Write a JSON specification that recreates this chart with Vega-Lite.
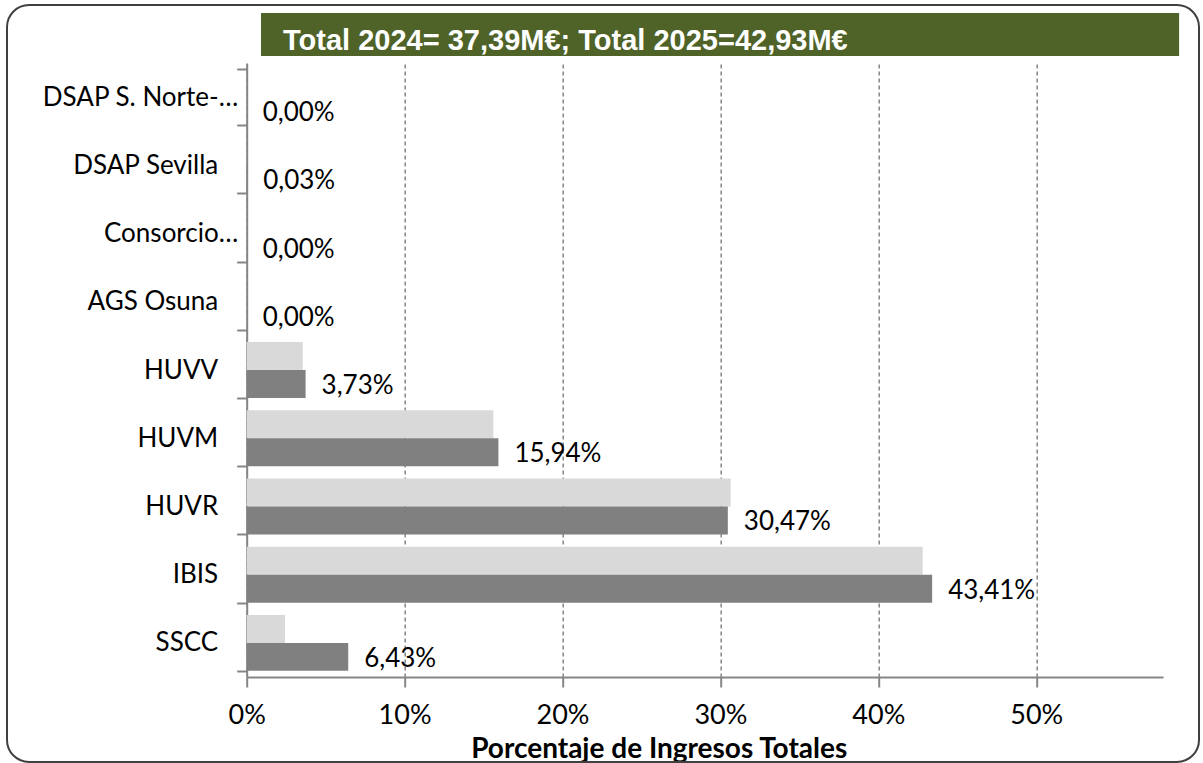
{
  "$schema": "https://vega.github.io/schema/vega-lite/v6.json",
  "width": 916.3,
  "height": 614,
  "autosize": {"type": "none"},
  "padding": {"left": 246.7, "top": 63, "right": 40, "bottom": 86},
  "background": "white",
  "config": {
    "view": {"stroke": null},
    "locale": {"number": {"decimal": ",", "thousands": ".", "grouping": [3], "currency": ["", " €"]}}
  },
  "layer": [
    {
      "data": {
        "values": [
          {"unidad": "DSAP S. Norte-…", "anio": "2024", "pct": 0},
          {"unidad": "DSAP S. Norte-…", "anio": "2025", "pct": 0},
          {"unidad": "DSAP Sevilla", "anio": "2024", "pct": 0},
          {"unidad": "DSAP Sevilla", "anio": "2025", "pct": 0.0003},
          {"unidad": "Consorcio…", "anio": "2024", "pct": 0},
          {"unidad": "Consorcio…", "anio": "2025", "pct": 0},
          {"unidad": "AGS Osuna", "anio": "2024", "pct": 0},
          {"unidad": "AGS Osuna", "anio": "2025", "pct": 0},
          {"unidad": "HUVV", "anio": "2024", "pct": 0.0355},
          {"unidad": "HUVV", "anio": "2025", "pct": 0.0373},
          {"unidad": "HUVM", "anio": "2024", "pct": 0.1562},
          {"unidad": "HUVM", "anio": "2025", "pct": 0.1594},
          {"unidad": "HUVR", "anio": "2024", "pct": 0.3065},
          {"unidad": "HUVR", "anio": "2025", "pct": 0.3047},
          {"unidad": "IBIS", "anio": "2024", "pct": 0.4281},
          {"unidad": "IBIS", "anio": "2025", "pct": 0.4341},
          {"unidad": "SSCC", "anio": "2024", "pct": 0.0243},
          {"unidad": "SSCC", "anio": "2025", "pct": 0.0643}
        ]
      },
      "encoding": {
        "y": {
          "field": "unidad",
          "type": "nominal",
          "sort": ["DSAP S. Norte-…", "DSAP Sevilla", "Consorcio…", "AGS Osuna", "HUVV", "HUVM", "HUVR", "IBIS", "SSCC"],
          "scale": {"paddingInner": 0.18, "paddingOuter": 0.09},
          "axis": {
            "title": null,
            "orient": "left",
            "tickBand": "extent",
            "tickSize": 10,
            "tickColor": "#868686",
            "tickWidth": 2,
            "domainColor": "#868686",
            "domainWidth": 2,
            "labelFont": "Lato",
            "labelFontSize": 26,
            "labelColor": "#000000",
            "labelPadding": 19,
            "labelLimit": 0,
            "grid": false,
            "encoding": {"labels": {"dx": {"condition": {"test": "indexof(datum.label, '…') >= 0", "value": 20}, "value": 0}}}
          }
        },
        "yOffset": {"field": "anio", "type": "nominal", "sort": ["2024", "2025"]},
        "x": {
          "field": "pct",
          "type": "quantitative",
          "scale": {"domain": [0, 0.5803], "nice": false, "zero": true},
          "axis": {
            "title": "Porcentaje de Ingresos Totales",
            "format": ".0%",
            "values": [0, 0.1, 0.2, 0.3, 0.4, 0.5],
            "grid": true,
            "gridDash": [4, 3],
            "gridColor": "#868686",
            "gridWidth": 1.5,
            "domainColor": "#868686",
            "domainWidth": 2,
            "tickColor": "#868686",
            "tickWidth": 2,
            "tickSize": 10,
            "labelFont": "Lato",
            "labelFontSize": 27,
            "labelColor": "#000000",
            "labelBaseline": "alphabetic",
            "labelPadding": 36,
            "labelFlush": false,
            "labelOverlap": false,
            "titleFont": "Lato",
            "titleFontSize": 28,
            "titleFontWeight": "bold",
            "titleColor": "#000000",
            "titleX": 412,
            "titleY": 80,
            "titleAlign": "center",
            "titleBaseline": "alphabetic"
          }
        }
      },
      "layer": [
        {
          "mark": {"type": "bar"},
          "encoding": {
            "color": {"field": "anio", "type": "nominal", "scale": {"domain": ["2024", "2025"], "range": ["#D9D9D9", "#808080"]}, "legend": null}
          }
        },
        {
          "transform": [{"filter": "datum.anio == '2025'"}],
          "mark": {"type": "text", "align": "left", "baseline": "middle", "dx": 16, "dy": 2, "font": "Lato", "fontSize": 26, "color": "#000000"},
          "encoding": {
            "text": {"field": "pct", "type": "quantitative", "format": ".2%"}
          }
        }
      ]
    },
    {
      "data": {"values": [{"k": 1}]},
      "mark": {"type": "rect", "fillOpacity": 0, "stroke": "#404040", "strokeWidth": 2, "cornerRadius": 22},
      "encoding": {
        "x": {"datum": -0.1518, "type": "quantitative", "scale": {"domain": [0, 0.5803], "nice": false, "zero": true}},
        "x2": {"datum": 0.6031},
        "y": {"datum": 1.0945, "type": "quantitative", "scale": {"domain": [0, 1], "nice": false, "zero": false}, "axis": null},
        "y2": {"datum": -0.1384}
      }
    },
    {
      "data": {"values": [{"titulo": "Total 2024= 37,39M€; Total 2025=42,93M€"}]},
      "encoding": {
        "y": {"datum": 1.0814, "type": "quantitative", "scale": {"domain": [0, 1], "nice": false, "zero": false}, "axis": null}
      },
      "layer": [
        {
          "mark": {"type": "rect", "fill": "#4F6228"},
          "encoding": {
            "x": {"datum": 0.00906, "type": "quantitative"},
            "x2": {"datum": 0.5905},
            "y2": {"datum": 1.0114}
          }
        },
        {
          "mark": {"type": "text", "align": "left", "baseline": "alphabetic", "font": "Liberation Sans", "fontSize": 29, "fontWeight": "bold", "color": "white"},
          "encoding": {
            "x": {"datum": 0.023, "type": "quantitative"},
            "y": {"datum": 1.0212, "type": "quantitative"},
            "text": {"field": "titulo", "type": "nominal"}
          }
        }
      ]
    }
  ],
  "resolve": {"scale": {"y": "independent"}}
}
